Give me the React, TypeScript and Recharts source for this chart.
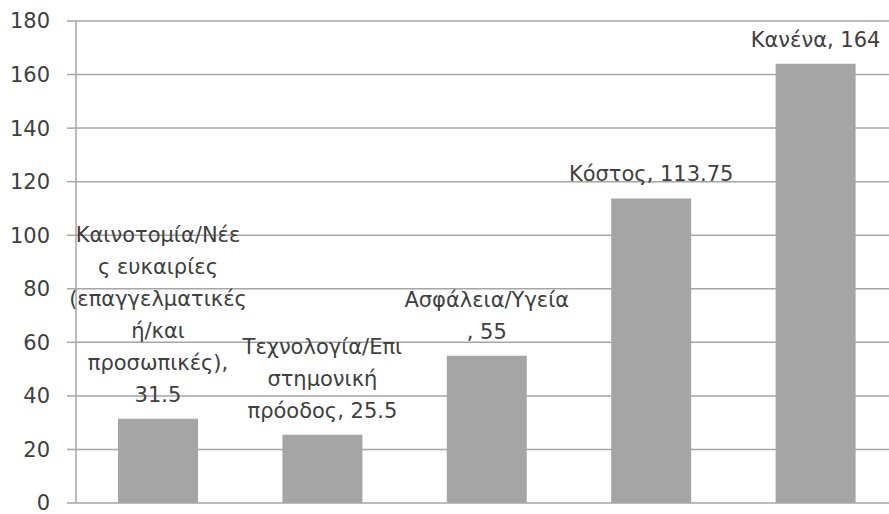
import { BarChart, Bar, XAxis, YAxis, CartesianGrid, LabelList } from 'recharts';

const categories = [
  'Καινοτομία/Νέες ευκαιρίες (επαγγελματικές ή/και προσωπικές)',
  'Τεχνολογία/Επιστημονική πρόοδος',
  'Ασφάλεια/Υγεία',
  'Κόστος',
  'Κανένα',
];

const values = [31.5, 25.5, 55, 113.75, 164];

// wrapped data label lines; {v} is replaced with the bar value
const labelLines = [
  ['Καινοτομία/Νέε', 'ς ευκαιρίες', '(επαγγελματικές', 'ή/και', 'προσωπικές),', '{v}'],
  ['Τεχνολογία/Επι', 'στημονική', 'πρόοδος, {v}'],
  ['Ασφάλεια/Υγεία', ', {v}'],
  ['Κόστος, {v}'],
  ['Κανένα, {v}'],
];

const yTicks = [0, 20, 40, 60, 80, 100, 120, 140, 160, 180];

const data = categories.map((name, i) => ({ name, value: values[i] }));

const FONT = '"DejaVu Sans", sans-serif';
const GRID = '#A6A6A6';
const TEXT = '#404040';

function WrappedLabel(props: any) {
  const { x, y, width, index, value } = props;
  const lines = (labelLines[index] || ['{v}']).map((l) => l.replace('{v}', String(value)));
  const cx = x + width / 2;
  const lineHeight = 32;
  const lastBaseline = y - 17;
  return (
    <text textAnchor="middle" fontFamily={FONT} fontSize={21} fill={TEXT}>
      {lines.map((line, i) => (
        <tspan key={i} x={cx} y={lastBaseline - (lines.length - 1 - i) * lineHeight}>
          {line}
        </tspan>
      ))}
    </text>
  );
}

export default function App() {
  return (
    <div style={{ position: 'absolute', left: 0, top: 0, width: 889, height: 514, overflow: 'hidden', background: '#fff' }}>
      <BarChart
        width={898}
        height={514}
        data={data}
        margin={{ top: 21, right: 0, left: 0, bottom: 11 }}
        barCategoryGap={0}
      >
        <CartesianGrid vertical={false} stroke={GRID} strokeWidth={1.5} />
        <XAxis dataKey="name" hide />
        <YAxis
          width={76}
          domain={[0, 180]}
          ticks={yTicks}
          interval={0}
          tickSize={9}
          tickMargin={17}
          axisLine={{ stroke: GRID, strokeWidth: 1.5 }}
          tickLine={{ stroke: GRID, strokeWidth: 1.5 }}
          tick={{ fill: TEXT, fontSize: 21, fontFamily: FONT }}
        />
        <Bar dataKey="value" fill="#A5A5A5" barSize={80} isAnimationActive={false}>
          <LabelList dataKey="value" content={<WrappedLabel />} />
        </Bar>
      </BarChart>
    </div>
  );
}
